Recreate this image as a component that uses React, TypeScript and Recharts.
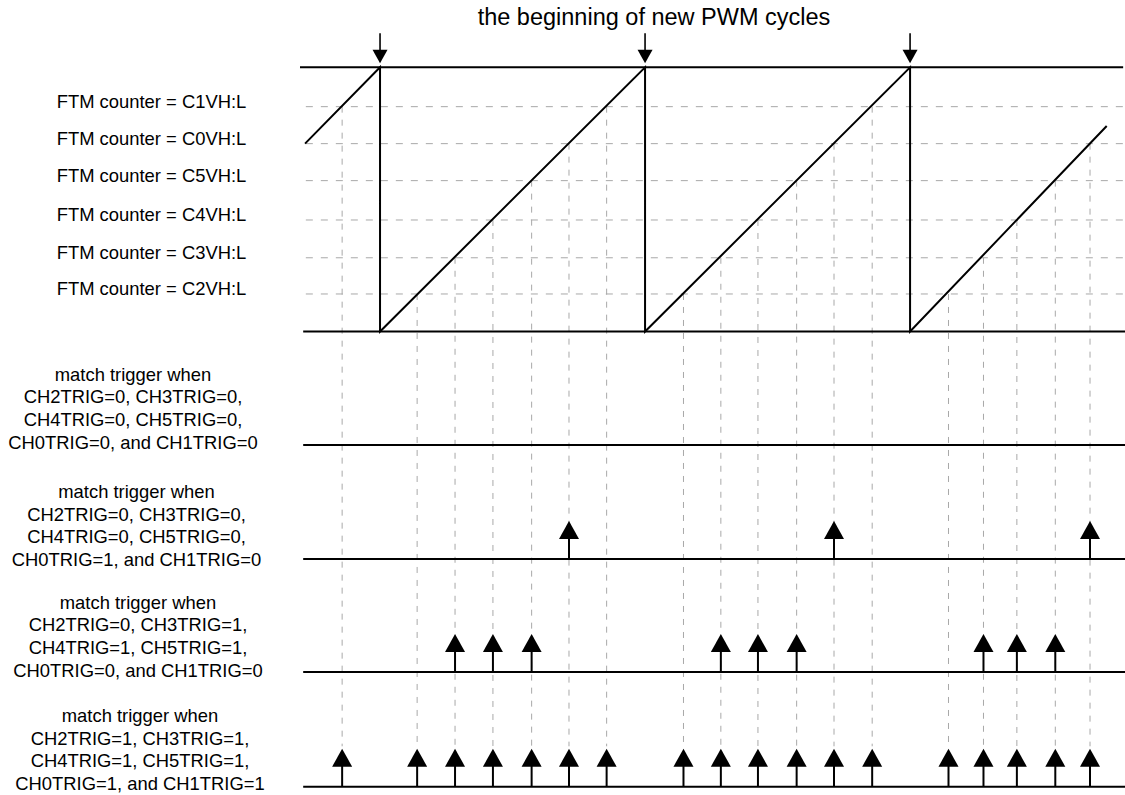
import React from 'react';
import { ComposedChart, XAxis, YAxis, Line, Scatter, ReferenceLine } from 'recharts';

// ---------- data (time in counter ticks, one PWM period = 100 ticks) ----------
const levelNames = ['C1VH:L', 'C0VH:L', 'C5VH:L', 'C4VH:L', 'C3VH:L', 'C2VH:L'];
const levelKeys = ['C1', 'C0', 'C5', 'C4', 'C3', 'C2'];
const levelValues = [85.1, 71.1, 57.1, 42.2, 27.9, 14.2];

// times where the counter matches each channel value
const matchC1 = [-14.3, 85.5, 185.7];
const matchC0 = [71.3, 171.3, 267.9];
const matchC5 = [57.2, 157.2, 254.8];
const matchC4 = [42.6, 142.6, 240.3];
const matchC3 = [28.3, 128.6, 227.7];
const matchC2 = [14.0, 114.5, 214.5];
const matchTimes: Record<string, number[]> = {
  C1: matchC1, C0: matchC0, C5: matchC5, C4: matchC4, C3: matchC3, C2: matchC2,
};

// counter waveform
const counterT = [-28.3, 0, 0, 100, 100, 200, 200, 274.2];
const counterV = [71.1, 100, 0, 100, 0, 100, 0, 77.8];
const counterMax = 100;
const cycleStarts = [0, 100, 200];

// trigger rows: which channels generate a trigger
const rowChannels: string[][] = [
  [],
  ['C0'],
  ['C3', 'C4', 'C5'],
  ['C2', 'C3', 'C4', 'C5', 'C0', 'C1'],
];
const rowLabels: string[][] = [
  ['match trigger when', 'CH2TRIG=0, CH3TRIG=0,', 'CH4TRIG=0, CH5TRIG=0,', 'CH0TRIG=0, and CH1TRIG=0'],
  ['match trigger when', 'CH2TRIG=0, CH3TRIG=0,', 'CH4TRIG=0, CH5TRIG=0,', 'CH0TRIG=1, and CH1TRIG=0'],
  ['match trigger when', 'CH2TRIG=0, CH3TRIG=1,', 'CH4TRIG=1, CH5TRIG=1,', 'CH0TRIG=0, and CH1TRIG=0'],
  ['match trigger when', 'CH2TRIG=1, CH3TRIG=1,', 'CH4TRIG=1, CH5TRIG=1,', 'CH0TRIG=1, and CH1TRIG=1'],
];
const titleText = 'the beginning of new PWM cycles';

// ---------- layout ----------
const W = 1125;
const H = 795;
const T_MIN = -143.4;
const T_MAX = 281.1;
const V_MIN = -175.44;
const V_MAX = 125.47;
const LANE_V = [-42.96, -86.11, -128.88, -172.29];
const LANE_TEXT_X = [133, 136.5, 138, 140];
const LANE_TEXT_DY = [3.7, 7, 4.7, 3.3];
const DASH_BOTTOM_V = -157;
const LINE_T0 = -29;
const TOP_T0 = -30.2;
const TOP_T1 = 280.4;
const GRID_T0 = -28;
const FONT = '"Liberation Sans", Arial, Helvetica, sans-serif';
const GRAY = '#a8a8a8';

const counterData = counterT.map((t, i) => ({ t, v: counterV[i] }));
const cycleData = cycleStarts.map((t) => ({ t, v: counterMax }));
const levelLabelData = levelValues.map((v, i) => ({ t: 0, v, name: levelNames[i] }));
const laneLabelData = LANE_V.map((v, i) => ({ t: 0, v, lane: i }));
const verticals: { t: number; v: number }[] = [];
levelKeys.forEach((k, i) => matchTimes[k].forEach((t) => verticals.push({ t, v: levelValues[i] })));
const laneArrowData = rowChannels.map((chs, lane) => {
  const pts: { t: number; v: number }[] = [];
  chs.forEach((k) => matchTimes[k].forEach((t) => pts.push({ t, v: LANE_V[lane] })));
  return pts.sort((a, b) => a.t - b.t);
});

const ArrowUp = (props: any) => {
  const { cx, cy } = props;
  if (cx == null || cy == null) return null;
  return (
    <g>
      <line x1={cx} y1={cy} x2={cx} y2={cy - 21} stroke="#000" strokeWidth={2} />
      <polygon points={`${cx - 10},${cy - 20} ${cx + 10},${cy - 20} ${cx},${cy - 38}`} fill="#000" />
    </g>
  );
};

const ArrowDown = (props: any) => {
  const { cx, cy } = props;
  if (cx == null || cy == null) return null;
  return (
    <g>
      <line x1={cx} y1={cy - 34} x2={cx} y2={cy - 17} stroke="#000" strokeWidth={1.6} />
      <polygon points={`${cx - 7.5},${cy - 17.5} ${cx + 7.5},${cy - 17.5} ${cx},${cy - 4}`} fill="#000" />
    </g>
  );
};

const LevelLabel = (props: any) => {
  const { cy, payload } = props;
  if (cy == null) return null;
  return (
    <text x={151.5} y={cy + 1.5} textAnchor="middle" fontSize={18.4} fontFamily={FONT} fill="#000">
      {`FTM counter = ${payload.name}`}
    </text>
  );
};

const LaneLabel = (props: any) => {
  const { cy, payload } = props;
  if (cy == null) return null;
  const lane = payload.lane;
  const lines = rowLabels[lane];
  const base = cy + LANE_TEXT_DY[lane];
  return (
    <g>
      {lines.map((s, i) => (
        <text
          key={i}
          x={LANE_TEXT_X[lane]}
          y={base - 22.7 * (lines.length - 1 - i)}
          textAnchor="middle"
          fontSize={18.4}
          fontFamily={FONT}
          fill="#000"
        >
          {s}
        </text>
      ))}
    </g>
  );
};

export default function App() {
  return (
    <div style={{ position: 'absolute', left: 0, top: 0, width: W, height: H, background: '#fff' }}>
      <div
        style={{
          position: 'absolute',
          left: 354,
          top: 5,
          width: 600,
          textAlign: 'center',
          fontFamily: FONT,
          fontSize: 23.5,
          lineHeight: '24px',
          color: '#000',
          whiteSpace: 'nowrap',
        }}
      >
        {titleText}
      </div>
      <ComposedChart width={W} height={H} margin={{ top: 0, right: 0, bottom: 0, left: 0 }}>
        <XAxis type="number" dataKey="t" domain={[T_MIN, T_MAX]} hide allowDataOverflow />
        <YAxis type="number" dataKey="v" domain={[V_MIN, V_MAX]} hide allowDataOverflow />

        {levelValues.map((v, i) => (
          <ReferenceLine
            key={`h${i}`}
            segment={[{ x: GRID_T0, y: v }, { x: T_MAX, y: v }]}
            stroke={GRAY}
            strokeWidth={1}
            strokeDasharray="7 8"
            ifOverflow="visible"
          />
        ))}
        {verticals.map((p, i) => (
          <ReferenceLine
            key={`v${i}`}
            segment={[{ x: p.t, y: p.v }, { x: p.t, y: DASH_BOTTOM_V }]}
            stroke={GRAY}
            strokeWidth={1}
            strokeDasharray="6 7"
            ifOverflow="visible"
          />
        ))}

        <ReferenceLine
          segment={[{ x: TOP_T0, y: counterMax }, { x: TOP_T1, y: counterMax }]}
          stroke="#000"
          strokeWidth={2}
          ifOverflow="visible"
        />
        <ReferenceLine
          segment={[{ x: LINE_T0, y: 0 }, { x: T_MAX, y: 0 }]}
          stroke="#000"
          strokeWidth={2}
          ifOverflow="visible"
        />
        {LANE_V.map((v, i) => (
          <ReferenceLine
            key={`l${i}`}
            segment={[{ x: LINE_T0, y: v }, { x: T_MAX, y: v }]}
            stroke="#000"
            strokeWidth={2}
            ifOverflow="visible"
          />
        ))}

        <Line
          data={counterData}
          dataKey="v"
          type="linear"
          stroke="#000"
          strokeWidth={2}
          dot={false}
          activeDot={false}
          isAnimationActive={false}
        />

        <Scatter data={cycleData} dataKey="v" shape={ArrowDown} isAnimationActive={false} />
        {laneArrowData.map((d, i) => (
          <Scatter key={`a${i}`} data={d} dataKey="v" shape={ArrowUp} isAnimationActive={false} />
        ))}
        <Scatter data={levelLabelData} dataKey="v" shape={LevelLabel} isAnimationActive={false} />
        <Scatter data={laneLabelData} dataKey="v" shape={LaneLabel} isAnimationActive={false} />
      </ComposedChart>
    </div>
  );
}
